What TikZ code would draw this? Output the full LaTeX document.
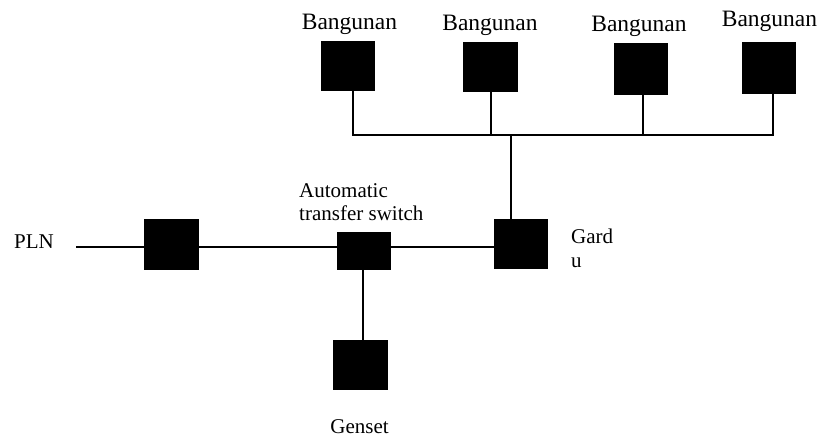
\documentclass[tikz,border=0pt]{standalone}
\usepackage{fontspec}
\setmainfont{Liberation Serif}
\begin{document}
\begin{tikzpicture}[x=1pt,y=-1pt,
  blk/.style={draw=black,fill=black,rectangle,inner sep=0pt,
    minimum width=#1},
  blk/.default=53,
  wire/.style={line width=1.5pt},
  lbl/.style={inner sep=0pt,font=\fontsize{21}{24}\selectfont},
  bldlbl/.style={inner sep=0pt,anchor=base,font=\fontsize{23.5}{27}\selectfont}]
\useasboundingbox (0,0) rectangle (819,436);

% buildings
\node[blk, minimum height=49] (b1) at (347.5,65.5) {};
\node[blk=54, minimum height=49] (b2) at (490,66.5) {};
\node[blk, minimum height=51] (b3) at (640.5,68.5) {};
\node[blk, minimum height=51] (b4) at (768.5,67.5) {};
\node[bldlbl] (t1) at (349.5,30) {Bangunan};
\node[bldlbl] (t2) at (490,31) {Bangunan};
\node[bldlbl] (t3) at (639,32) {Bangunan};
\node[bldlbl] (t4) at (769.5,27) {Bangunan};

% distribution bus
\coordinate (j1) at (353,135);
\coordinate (j2) at (491,135);
\coordinate (j3) at (643,135);
\coordinate (j4) at (773,135);
\coordinate (jg) at (511,135);
\draw[wire] (j1 |- b1.south) -- (j1) -- (j4) -- (j4 |- b4.south);
\draw[wire] (j2) -- (j2 |- b2.south);
\draw[wire] (j3) -- (j3 |- b3.south);

% supply chain
\node[blk=54, minimum height=50] (pln) at (171,244) {};
\node[blk, minimum height=37] (ats) at (363.5,250.5) {};
\node[blk, minimum height=49] (gardu) at (520.5,243.5) {};
\node[blk=54, minimum height=49] (gen) at (360,364.5) {};
\coordinate (src) at (76,247);

\draw[wire] (src) -- (gardu.west |- src);
\draw[wire] (jg) -- (jg |- gardu.north);
\draw[wire] (363,269) coordinate (atsb) -- (atsb |- gen.north);

% labels
\node[lbl,anchor=base west] (lpln) at (14,248) {PLN};
\node[lbl,anchor=base west] (lats) at (299,197) {Automatic};
\node[lbl,anchor=base west] (lats2) at (299,220.5) {transfer switch};
\node[lbl,anchor=base west] (lg1) at (571,243) {Gard};
\node[lbl,anchor=base west] (lg2) at (571,267) {u};
\node[lbl,anchor=base] (lgen) at (359.5,433) {Genset};
\end{tikzpicture}
\end{document}
